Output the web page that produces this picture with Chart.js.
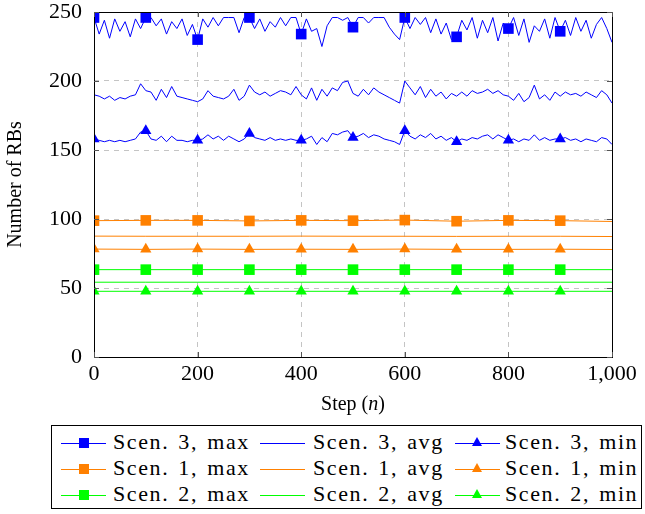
<!DOCTYPE html>
<html lang="en">
<head>
    <meta charset="UTF-8">
    <title>Number of RBs per step</title>
    <script src="https://cdn.jsdelivr.net/npm/chart.js"></script>
    <style>
        body {
            margin: 0;
            background: #fff;
            font-family: 'Liberation Serif', 'DejaVu Serif', serif;
            color: #000;
        }
        #wrap {
            position: relative;
            width: 645px;
            height: 514px;
        }
        #chart {
            position: absolute;
            left: 0;
            top: 0;
        }
        .xtitle {
            position: absolute;
            left: 0;
            width: 706px;
            top: 392px;
            text-align: center;
            font-size: 20px;
        }
        .legend {
            position: absolute;
            left: 51px;
            top: 425px;
            width: 591px;
            height: 84px;
            border: 1px solid #000;
            box-sizing: border-box;
            font-size: 22px;
        }
        .sample {
            position: absolute;
            width: 45px;
            height: 1px;
        }
        .sample .sq {
            position: absolute;
            left: 18px;
            top: -5px;
            width: 10px;
            height: 10px;
        }
        .sample .tri {
            position: absolute;
            left: 17px;
            top: -6px;
            width: 0;
            height: 0;
            border-left: 5.5px solid transparent;
            border-right: 5.5px solid transparent;
            border-bottom: 9px solid;
        }
        .label {
            position: absolute;
            line-height: 22px;
            white-space: nowrap;
            letter-spacing: 1.6px;
            word-spacing: 2px;
        }
    </style>
</head>
<body>
<div id="wrap">
    <canvas id="chart" width="645" height="420"></canvas>
    <div class="xtitle">Step (<i>n</i>)</div>
    <div class="legend" id="legend"></div>
</div>

<script>
    // step positions
    const steps10 = [];
    for (let s = 0; s <= 1000; s += 10) steps10.push(s);
    const steps100 = [0, 100, 200, 300, 400, 500, 600, 700, 800, 900, 1000];

    // Scenario 3 (every 10 steps)
    const max3 = [
        246, 234, 244, 231, 245, 236, 243, 232, 245, 238,
        246, 246, 240, 245, 234, 243, 238, 245, 233, 241,
        230, 245, 239, 246, 240, 246, 246, 246, 235, 246,
        246, 238, 245, 236, 243, 239, 246, 240, 246, 246,
        234, 245, 236, 238, 225, 240, 246, 246, 244, 246,
        239, 246, 246, 242, 246, 246, 246, 239, 234, 230,
        246, 238, 246, 241, 246, 235, 245, 234, 242, 230,
        232, 244, 237, 246, 231, 244, 235, 246, 229, 242,
        238, 246, 233, 245, 228, 240, 236, 245, 231, 246,
        236, 244, 233, 246, 236, 244, 231, 241, 246, 238,
        228
    ];
    const avg3 = [
        190, 189, 187, 189, 186, 188, 187, 189, 190, 198,
        193, 192, 186, 194, 188, 196, 189, 188, 187, 186,
        185, 187, 193, 189, 188, 187, 189, 194, 186, 189,
        197, 192, 190, 192, 189, 191, 193, 192, 190, 196,
        190, 187, 195, 186, 194, 189, 195, 193, 199, 200,
        191, 189, 194, 190, 195, 192, 190, 188, 186, 184,
        200, 195, 190, 196, 188, 194, 189, 192, 187, 191,
        189, 192, 189, 193, 191, 192, 194, 191, 193, 190,
        189, 186, 191, 185, 188, 197, 187, 190, 186, 192,
        189, 192, 190, 191, 189, 192, 190, 188, 193, 190,
        184
    ];
    const min3 = [
        158, 157, 156, 157, 156, 157, 156, 157, 158, 163,
        164, 158, 157, 160, 156, 160, 157, 157, 156, 157,
        157, 158, 161, 158, 160, 157, 160, 158, 156, 158,
        162, 159, 158, 157, 159, 157, 158, 157, 158, 157,
        157, 158, 160, 154, 159, 156, 162, 161, 163, 164,
        159, 160, 162, 159, 161, 160, 158, 157, 156, 154,
        164, 160, 158, 161, 159, 162, 158, 160, 157, 159,
        156, 158, 157, 159, 158, 160, 161, 158, 161, 159,
        157, 158, 156, 158, 157, 161, 157, 159, 157, 158,
        158, 159, 157, 158, 156, 158, 157, 156, 159, 158,
        154
    ];

    // Scenarios 1 and 2 (every 100 steps)
    const max1 = [98.8, 99.0, 99.0, 98.6, 99.0, 98.8, 99.2, 98.4, 99.0, 98.8, 98.2];
    const avg1 = [87.6, 87.5, 87.5, 87.5, 87.6, 87.5, 87.5, 87.4, 87.5, 87.5, 87.3];
    const min1 = [78.2, 78.0, 78.2, 78.0, 78.1, 78.0, 78.2, 78.0, 78.0, 78.1, 77.9];
    const max2 = [63.3, 63.3, 63.3, 63.3, 63.3, 63.3, 63.3, 63.3, 63.3, 63.3, 63.3];
    const avg2 = [54.2, 54.2, 54.2, 54.2, 54.2, 54.2, 54.2, 54.2, 54.2, 54.2, 54.2];
    const min2 = [47.6, 47.6, 47.6, 47.6, 47.6, 47.6, 47.6, 47.6, 47.6, 47.6, 47.6];

    const yTicks = [0, 50, 100, 150, 200, 250];
    const xTicks = [0, 200, 400, 600, 800, 1000];

    const BLUE = '#0000ff', ORANGE = '#ff8000', GREEN = '#00ff00';

    function pts(xs, ys) {
        return ys.map((v, i) => ({ x: xs[i], y: v }));
    }

    // marks only every 100 steps, not on the last point
    function markEvery(xs, r) {
        return ctx => {
            const s = xs[ctx.dataIndex];
            return (s % 100 === 0 && s < 1000) ? r : 0;
        };
    }

    function series(label, xs, ys, color, mark) {
        const r = mark === 'rect' ? 7.5 : (mark === 'triangle' ? 6.5 : 0);
        return {
            label: label,
            data: pts(xs, ys),
            borderColor: color,
            backgroundColor: color,
            borderWidth: 1,
            pointStyle: mark || 'circle',
            pointRadius: mark ? markEvery(xs, r) : 0,
            pointBorderWidth: 0,
            pointHoverRadius: 0,
            tension: 0
        };
    }

    const datasets = [
        series('Scen. 3, max', steps10, max3, BLUE, 'rect'),
        series('Scen. 3, avg', steps10, avg3, BLUE, null),
        series('Scen. 3, min', steps10, min3, BLUE, 'triangle'),
        series('Scen. 1, max', steps100, max1, ORANGE, 'rect'),
        series('Scen. 1, avg', steps100, avg1, ORANGE, null),
        series('Scen. 1, min', steps100, min1, ORANGE, 'triangle'),
        series('Scen. 2, max', steps100, max2, GREEN, 'rect'),
        series('Scen. 2, avg', steps100, avg2, GREEN, null),
        series('Scen. 2, min', steps100, min2, GREEN, 'triangle')
    ];

    // axis box with inward tick marks, like pgfplots
    const frame = {
        id: 'frame',
        afterDraw(chart) {
            const { ctx, chartArea: a, scales } = chart;
            ctx.save();
            ctx.strokeStyle = '#000';
            ctx.lineWidth = 1;
            ctx.strokeRect(a.left + 0.5, a.top + 0.5, a.right - a.left, a.bottom - a.top);
            ctx.strokeStyle = '#555';
            ctx.beginPath();
            yTicks.forEach(v => {
                const y = Math.round(scales.y.getPixelForValue(v)) + 0.5;
                ctx.moveTo(a.left, y); ctx.lineTo(a.left + 5, y);
                ctx.moveTo(a.right, y); ctx.lineTo(a.right - 5, y);
            });
            xTicks.forEach(v => {
                const x = Math.round(scales.x.getPixelForValue(v)) + 0.5;
                ctx.moveTo(x, a.bottom); ctx.lineTo(x, a.bottom - 5);
                ctx.moveTo(x, a.top); ctx.lineTo(x, a.top + 5);
            });
            ctx.stroke();
            ctx.restore();
        }
    };

    const tickFont = { family: "'Liberation Serif', serif", size: 22 };

    new Chart(document.getElementById('chart'), {
        type: 'line',
        data: { datasets: datasets },
        options: {
            responsive: false,
            animation: false,
            layout: { padding: { left: 0, right: 33, top: 12, bottom: 0 } },
            plugins: {
                legend: { display: false },
                tooltip: { enabled: false }
            },
            scales: {
                x: {
                    type: 'linear',
                    min: 0,
                    max: 1000,
                    afterBuildTicks: s => { s.ticks = xTicks.map(v => ({ value: v })); },
                    afterFit: s => { s.height = 63; s.paddingLeft = 0; s.paddingRight = 0; },
                    grid: { color: '#c4c4c4', lineWidth: 1, drawTicks: false },
                    border: { display: false, dash: [5, 5] },
                    ticks: { color: '#000', font: tickFont, padding: 4, maxRotation: 0 }
                },
                y: {
                    min: 0,
                    max: 250,
                    afterBuildTicks: s => { s.ticks = yTicks.map(v => ({ value: v })); },
                    afterFit: s => { s.width = 94; s.paddingTop = 0; s.paddingBottom = 0; },
                    grid: { color: '#c4c4c4', lineWidth: 1, drawTicks: false },
                    border: { display: false, dash: [5, 5] },
                    ticks: { color: '#000', font: tickFont, padding: 12 },
                    title: {
                        display: true,
                        text: 'Number of RBs',
                        color: '#000',
                        font: { family: "'Liberation Serif', serif", size: 20 },
                        padding: { top: 4, bottom: 0 }
                    }
                }
            }
        },
        plugins: [frame]
    });

    // legend: 3 columns x 3 rows, same order as the datasets
    const legend = document.getElementById('legend');
    const colX = [[9, 61], [208, 261], [403, 453]];
    const rowY = [17, 43, 69];
    datasets.forEach((d, i) => {
        const row = Math.floor(i / 3), col = i % 3;
        const sample = document.createElement('div');
        sample.className = 'sample';
        sample.style.left = colX[col][0] + 'px';
        sample.style.top = rowY[row] + 'px';
        sample.style.background = d.borderColor;
        if (d.pointStyle === 'rect') {
            const m = document.createElement('div');
            m.className = 'sq';
            m.style.background = d.borderColor;
            sample.appendChild(m);
        } else if (d.pointStyle === 'triangle') {
            const m = document.createElement('div');
            m.className = 'tri';
            m.style.borderBottomColor = d.borderColor;
            sample.appendChild(m);
        }
        legend.appendChild(sample);
        const label = document.createElement('div');
        label.className = 'label';
        label.textContent = d.label;
        label.style.left = colX[col][1] + 'px';
        label.style.top = (rowY[row] - 12) + 'px';
        legend.appendChild(label);
    });
</script>
</body>
</html>
